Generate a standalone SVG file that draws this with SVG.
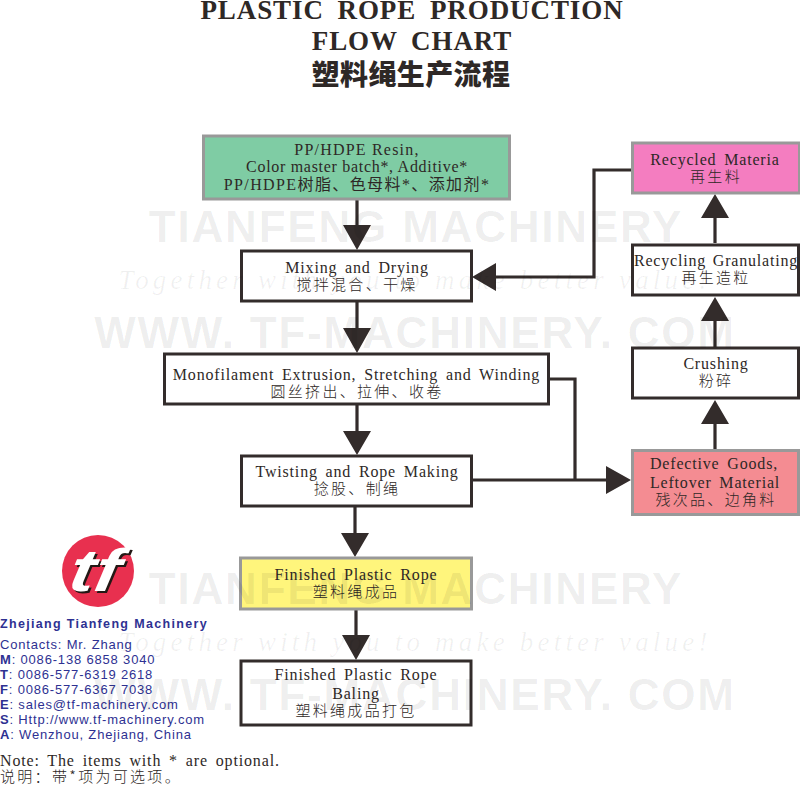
<svg xmlns="http://www.w3.org/2000/svg" width="800" height="785" viewBox="0 0 800 785">
<style>
.n{stroke:#332c2b;stroke-width:3;fill:#fff}
.g{stroke:#999;stroke-width:3}
text{font-family:"Liberation Serif","Noto Sans CJK SC",serif;fill:#2e2826;text-anchor:middle}
.t{font-size:16px;letter-spacing:.82px;word-spacing:3px}
.c{font-size:15px;font-family:"Noto Sans CJK SC",sans-serif;font-weight:300;letter-spacing:2.3px}
.h{font-size:27px;font-weight:bold;letter-spacing:.92px;word-spacing:6px}
.i{font-family:"Liberation Sans",sans-serif;fill:#2e3192;text-anchor:start;font-size:13px;letter-spacing:.82px}
.l{fill:none;stroke:#332c2b;stroke-width:3.2}
.a{fill:#332c2b}
.w1{font-family:"Liberation Sans",sans-serif;font-weight:bold;font-size:44px;fill:#000;fill-opacity:.07;letter-spacing:1.8px}
.w2{font-family:"Liberation Serif",serif;font-style:italic;font-size:27px;fill:#000;fill-opacity:.06;letter-spacing:4.2px}
.lg{font-family:"Liberation Sans",sans-serif;font-weight:bold;font-style:italic;font-size:60px;text-anchor:middle}
</style>
<g id="title">
<text class="h" x="412" y="19">PLASTIC ROPE PRODUCTION</text>
<text class="h" x="412" y="50">FLOW CHART</text>
<text x="411" y="85" style="font-family:'Noto Sans CJK SC',sans-serif;font-weight:900;font-size:28px;letter-spacing:.4px">塑料绳生产流程</text>
</g>
<g id="connectors">
<path class="l" d="M357 200V226M357 302V329M357 405V432M355 507V534M356 610V636M715 243V218M715 347V321M715 449V424M631 170H594V277H495M549 379H575V480M472 480H607"/>
<path class="a" d="M343 225H371L357 250ZM343 328H371L357 353ZM343 431H371L357 455ZM341 533H369L355 557ZM342 635H370L356 660ZM701 218H729L715 194ZM701 321H729L715 297ZM701 424H729L715 400ZM496 263V291L472 277ZM606 466V494L631 480Z"/>
</g>
<g id="resin"><rect class="g" x="203.500" y="136" width="306" height="63" fill="#7fcca4"/>
<text class="t" x="357" y="155" style="letter-spacing:1.2px;word-spacing:0">PP/HDPE Resin,</text>
<text class="t" x="357" y="172" style="letter-spacing:.7px;word-spacing:0">Color master batch*, Additive*</text>
<text x="357" y="190" style="font-size:16px;letter-spacing:1.4px">PP/HDPE树脂、色母料*、添加剂*</text></g>
<g id="mixing"><rect class="n" x="241.500" y="251" width="230" height="50"/>
<text class="t" x="357" y="273">Mixing and Drying</text><text class="c" x="357" y="290">搅拌混合、干燥</text></g>
<g id="mono"><rect class="n" x="164.500" y="354" width="384" height="50"/>
<text class="t" x="356.500" y="380">Monofilament Extrusion, Stretching and Winding</text><text class="c" x="357" y="397">圆丝挤出、拉伸、收卷</text></g>
<g id="twisting"><rect class="n" x="241.500" y="456" width="230" height="50"/>
<text class="t" x="357" y="477">Twisting and Rope Making</text><text class="c" x="357" y="494">捻股、制绳</text></g>
<g id="finished"><rect class="g" x="240.500" y="558" width="231" height="51" fill="#fff57c"/>
<text class="t" x="356" y="580">Finished Plastic Rope</text><text class="c" x="356" y="597">塑料绳成品</text></g>
<g id="baling"><rect class="n" x="241" y="661" width="230" height="64"/>
<text class="t" x="356" y="680">Finished Plastic Rope</text><text class="t" x="356" y="699">Baling</text><text class="c" x="356" y="716">塑料绳成品打包</text></g>
<g id="recycled"><rect class="g" x="632.500" y="143" width="167" height="50" fill="#f47dc0"/>
<text class="t" x="715" y="165">Recycled Materia</text><text class="c" x="716" y="182">再生料</text></g>
<g id="granulating"><rect class="n" x="632.500" y="245" width="166" height="50"/>
<text class="t" x="716" y="266" style="letter-spacing:.8px;word-spacing:2px">Recycling Granulating</text><text class="c" x="716" y="283">再生造粒</text></g>
<g id="crushing"><rect class="n" x="632.500" y="348" width="166" height="50"/>
<text class="t" x="716" y="369">Crushing</text><text class="c" x="716" y="386">粉碎</text></g>
<g id="defective"><rect class="g" x="632.500" y="450.500" width="166" height="64" fill="#f48c92"/>
<text class="t" x="714" y="469">Defective Goods,</text><text class="t" x="715" y="488">Leftover Material</text><text class="c" x="716" y="505">残次品、边角料</text></g>
<g id="logo"><circle cx="98" cy="571" r="36" fill="#e8304f"/>
<text class="lg" transform="translate(94 593) scale(1.25 1) skewX(-8)" style="fill:#231815">tf</text>
<text class="lg" transform="translate(92 591) scale(1.25 1) skewX(-8)" style="fill:#fff">tf</text></g>
<g id="contacts">
<text class="i" x="0" y="628" style="font-weight:bold;font-size:12.500px;letter-spacing:1.330px">Zhejiang Tianfeng Machinery</text>
<text class="i" x="0" y="649">Contacts: Mr. Zhang</text>
<text class="i" x="0" y="664"><tspan font-weight="bold">M</tspan>: 0086-138 6858 3040</text>
<text class="i" x="0" y="679"><tspan font-weight="bold">T</tspan>: 0086-577-6319 2618</text>
<text class="i" x="0" y="694"><tspan font-weight="bold">F</tspan>: 0086-577-6367 7038</text>
<text class="i" x="0" y="709"><tspan font-weight="bold">E</tspan>: sales@tf-machinery.com</text>
<text class="i" x="0" y="724"><tspan font-weight="bold">S</tspan>: Http://www.tf-machinery.com</text>
<text class="i" x="0" y="739"><tspan font-weight="bold">A</tspan>: Wenzhou, Zhejiang, China</text>
</g>
<g id="note">
<text x="0" y="766" style="text-anchor:start;font-size:16px;letter-spacing:.85px;word-spacing:3px">Note: The items with * are optional.</text>
<text x="0" y="782" style="text-anchor:start;font-size:15px;letter-spacing:2.300px;font-family:'Noto Sans CJK SC',sans-serif;font-weight:300">说明：带*项为可选项。</text>
</g>
<g id="watermark">
<text class="w1" x="416" y="242">TIANFENG MACHINERY</text>
<text class="w2" x="415" y="289">Together with you to make better value!</text>
<text class="w1" x="415" y="348">WWW. TF-MACHINERY. COM</text>
<text class="w1" x="416" y="604">TIANFENG MACHINERY</text>
<text class="w2" x="415" y="651">Together with you to make better value!</text>
<text class="w1" x="415" y="710">WWW. TF-MACHINERY. COM</text>
</g>
</svg>
